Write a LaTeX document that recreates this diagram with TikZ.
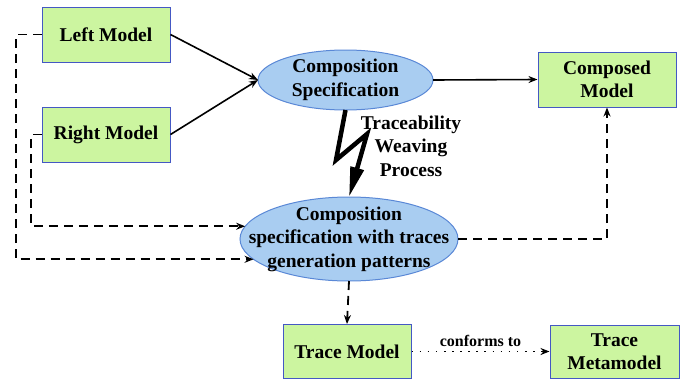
\documentclass[tikz,border=0pt]{standalone}
\usepackage{fontspec}
\setmainfont{Liberation Serif}
\usetikzlibrary{shapes.geometric,arrows.meta}
\definecolor{boxfill}{HTML}{CCF5A0}
\definecolor{boxline}{HTML}{4458C4}
\definecolor{ellfill}{HTML}{A9CDF1}
\definecolor{ellline}{HTML}{5A88D6}
\tikzset{
  txt/.style={align=center, font=\fontsize{19.5}{23.5}\selectfont\bfseries, inner sep=0pt},
  mbox/.style={draw=boxline, fill=boxfill, line width=1pt, rectangle, txt},
  mell/.style={draw=ellline, fill=ellfill, line width=1pt, ellipse, inner sep=0pt, outer sep=0pt},
  conn/.style={line width=1.6pt, -{Stealth[length=9pt,width=7pt]}},
  dconn/.style={line width=1.8pt, dash pattern=on 9pt off 6pt, -{Stealth[length=9pt,width=7pt]}},
  dotconn/.style={line width=1.6pt, dash pattern=on 1.6pt off 6.5pt, -{Stealth[length=9pt,width=7pt]}},
  bolt/.style={line width=4.5pt, miter limit=20, -{Triangle[length=30pt,width=13pt]}},
}
\begin{document}
\begin{tikzpicture}[x=1pt,y=-1pt]
\useasboundingbox (0,0) rectangle (688,381);
\node[mbox, minimum width=128pt, minimum height=55pt] (left) at (106,34.5) {Left Model};
\node[mbox, minimum width=128pt, minimum height=55pt] (right) at (106,134.5) {Right Model};
\node[mell, minimum width=175pt, minimum height=60pt,
  label={[txt]center:Composition\\Specification}] (spec) at (345.5,80) {};
\node[mbox, minimum width=138pt, minimum height=55pt] (composed) at (607,79.5) {Composed\\Model};
\node[mell, minimum width=218pt, minimum height=84pt,
  label={[txt]center:Composition\\specification with traces\\generation patterns}] (specT) at (349,239) {};
\node[mbox, minimum width=128pt, minimum height=54pt] (trace) at (347,351.5) {Trace Model};
\node[mbox, minimum width=129pt, minimum height=53pt] (meta) at (614.5,351.5) {Trace\\Metamodel};
\node[txt] (tw) at (411,146) {Traceability\\Weaving\\Process};

\draw[conn] (left.east) -- (spec.west);
\draw[conn] (right.east) -- (spec.west);
\draw[conn] (spec.east) -- (composed.west);

\coordinate (a1) at (16,34.5);
\coordinate (a2) at (31,134.5);
\draw[dconn] (left.west) -- (a1) |- (specT.192);
\draw[dconn] (right.west) -- (a2) |- (specT.173);
\draw[dconn] (specT.east) -| (composed.south);
\draw[dconn] (specT.south) -- (trace.north);

\draw[dotconn] (trace.east) -- node[above=3pt, font=\fontsize{16}{18}\selectfont\bfseries, inner sep=1pt] (conf) {conforms to} (meta.west);

\coordinate (b1) at (336,160);
\coordinate (b2) at (367,134);
\draw[bolt] (spec.south) -- (b1) -- (b2) -- (specT.north);
\end{tikzpicture}
\end{document}
